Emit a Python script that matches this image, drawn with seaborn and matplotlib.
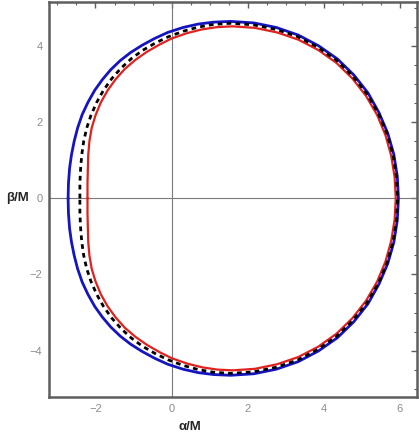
import numpy as np
import pandas as pd
import matplotlib
matplotlib.use("Agg")
import matplotlib.pyplot as plt
from matplotlib.ticker import MultipleLocator
import seaborn as sns

# Upper-half traces (alpha/M, beta/M); curves are symmetric in beta
blue_alpha = [-2.72, -2.71, -2.68, -2.63, -2.56, -2.47, -2.35, -2.20, -2.02, -1.82, -1.60, -1.35,
              -1.08, -0.78, -0.45, -0.10, 0.30, 0.70, 1.10, 1.55, 2.16, 2.75, 3.33, 3.86,
              4.36, 4.79, 5.16, 5.45, 5.68, 5.84, 5.93, 5.96]
blue_beta = [0.00, 0.40, 0.80, 1.15, 1.50, 1.85, 2.20, 2.52, 2.84, 3.12, 3.38, 3.62,
             3.83, 4.02, 4.20, 4.36, 4.49, 4.58, 4.63, 4.65, 4.61, 4.49, 4.29, 4.01,
             3.66, 3.24, 2.77, 2.25, 1.71, 1.15, 0.58, 0.00]

black_alpha = [-2.41, -2.41, -2.39, -2.36, -2.31, -2.23, -2.12, -1.97, -1.79, -1.57, -1.33, -1.06,
               -0.76, -0.43, -0.10, 0.30, 0.70, 1.10, 1.55, 2.15, 2.74, 3.31, 3.84,
               4.33, 4.76, 5.13, 5.43, 5.66, 5.82, 5.91, 5.94]
black_beta = [0.00, 0.40, 0.80, 1.15, 1.50, 1.85, 2.18, 2.52, 2.84, 3.15, 3.42, 3.67,
              3.89, 4.08, 4.24, 4.39, 4.50, 4.57, 4.60, 4.56, 4.44, 4.25, 3.97,
              3.63, 3.21, 2.75, 2.24, 1.70, 1.14, 0.57, 0.00]

red_alpha = [-2.21, -2.21, -2.20, -2.19, -2.16, -2.10, -2.00, -1.86, -1.68, -1.47, -1.23, -0.95,
             -0.65, -0.32, 0.00, 0.40, 0.80, 1.20, 1.60, 2.19, 2.77, 3.33, 3.85,
             4.33, 4.75, 5.11, 5.40, 5.62, 5.77, 5.86, 5.89]
red_beta = [0.00, 0.40, 0.80, 1.15, 1.50, 1.85, 2.18, 2.52, 2.84, 3.13, 3.40, 3.64,
            3.85, 4.04, 4.20, 4.34, 4.44, 4.50, 4.52, 4.48, 4.36, 4.17, 3.90,
            3.56, 3.15, 2.69, 2.19, 1.66, 1.12, 0.56, 0.00]

x_ticks = [-2, 0, 2, 4, 6]
y_ticks = [-4, -2, 0, 2, 4]
x_label = "α/M"
y_label = "β/M"


def closed(a, b):
    a = np.asarray(a, float)
    b = np.asarray(b, float)
    xa = np.concatenate([a, a[::-1][1:]])
    yb = np.concatenate([b, -b[::-1][1:]])
    return pd.DataFrame({"alpha": xa, "beta": yb})


sns.set_style("white")
plt.rcParams["font.family"] = ["Liberation Sans", "DejaVu Sans"]

fig = plt.figure(figsize=(4.19, 4.41), dpi=100)
ax = fig.add_axes([0.118, 0.0998, 0.8765, 0.8957])

ax.axhline(0, color="#7a7a7a", lw=0.8, zorder=1)
ax.axvline(0, color="#7a7a7a", lw=0.8, zorder=1)

sns.lineplot(data=closed(blue_alpha, blue_beta), x="alpha", y="beta", sort=False,
             estimator=None, color="#1414c0", lw=2.0, ax=ax, zorder=3)
sns.lineplot(data=closed(red_alpha, red_beta), x="alpha", y="beta", sort=False,
             estimator=None, color="#e0211d", lw=1.6, ax=ax, zorder=3)
sns.lineplot(data=closed(black_alpha, black_beta), x="alpha", y="beta", sort=False,
             estimator=None, color="black", lw=2.0, ax=ax, zorder=4)
for ln in ax.lines[2:]:
    ln.set_solid_joinstyle("round")
ax.lines[-1].set_dashes([1.7, 1.5])

ax.set_xlim(-3.21, 6.44)
ax.set_ylim(-5.22, 5.16)
ax.set_xticks(x_ticks)
ax.set_yticks(y_ticks)
ax.xaxis.set_minor_locator(MultipleLocator(0.5))
ax.yaxis.set_minor_locator(MultipleLocator(0.5))
ax.tick_params(which="both", direction="in", top=True, right=True,
               color="#5e5e5e", labelcolor="#8c8c8c", labelsize=8)
ax.tick_params(which="major", length=4, width=1.0, pad=5)
ax.tick_params(which="minor", length=2, width=0.8)
ax.tick_params(axis="x", labeltop=False)
ax.tick_params(axis="y", labelright=False)

for s in ax.spines.values():
    s.set_color("#5e5e5e")
    s.set_linewidth(1.8)
    s.set_visible(True)

ax.set_xlabel(x_label, fontsize=9.5, fontweight="bold")
ax.set_ylabel(y_label, fontsize=9.5, fontweight="bold", rotation=0,
              va="center", ha="center")
ax.xaxis.set_label_coords(0.383, -0.062)
ax.yaxis.set_label_coords(-0.086, 0.504)

fig.savefig("out.png", dpi=100)
